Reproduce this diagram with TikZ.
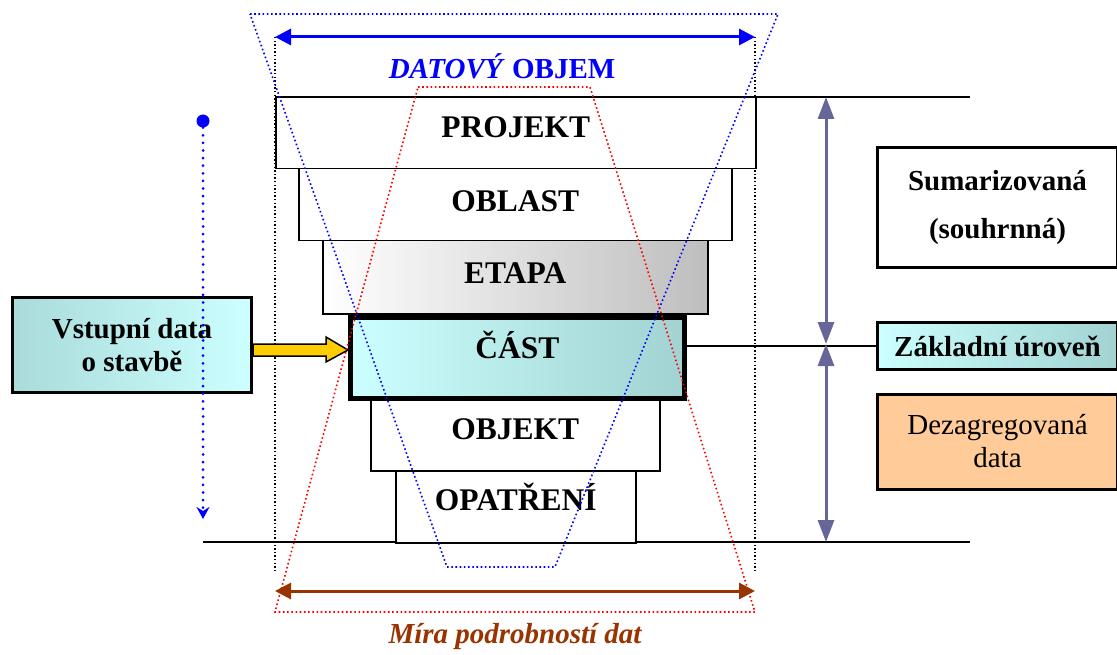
\documentclass[tikz,border=0pt]{standalone}
\usepackage{fontspec}
\setmainfont{Liberation Serif}
\usetikzlibrary{arrows.meta}
\definecolor{cyanL}{HTML}{CCFFFF}
\definecolor{cyanD}{HTML}{A2D2D2}
\definecolor{grayD}{HTML}{BEBEBE}
\definecolor{orangeL}{HTML}{FFCC99}
\definecolor{yellowA}{HTML}{FFCC00}
\definecolor{purpleA}{HTML}{666699}
\definecolor{brownA}{HTML}{993300}
\newcommand{\lvlfont}{\fontsize{31.5}{37}\selectfont}
\newcommand{\bigfont}{\fontsize{29}{35}\selectfont}
\tikzset{
  lvl/.style={draw, line width=1.5pt, anchor=north west, inner sep=0pt, font=\lvlfont\bfseries, fill=white, text height=22pt, text depth=7pt},
  sidebox/.style={draw, line width=3pt, anchor=north west, inner sep=0pt, align=center},
  bluedot/.style={blue, line width=1.6pt, dash pattern=on 1.6pt off 2.6pt},
  reddot/.style={red, line width=1.6pt, dash pattern=on 1.6pt off 2.6pt},
  blackdot/.style={black, line width=1.4pt, dash pattern=on 1.4pt off 2.2pt},
  parr/.style={purpleA, line width=3pt, {Triangle[length=22pt,width=16pt]}-{Triangle[length=22pt,width=16pt]}},
  wideArr/.style={line width=3pt, {Triangle[length=16pt,width=16pt]}-{Triangle[length=16pt,width=16pt]}},
  plain/.style={black, line width=1.5pt}
}
\begin{document}
\begin{tikzpicture}[x=1pt,y=-1pt]
\useasboundingbox (0,0) rectangle (1117,655);

% black dotted verticals
\coordinate (vl1) at (275,37); \coordinate (vl2) at (275,570);
\coordinate (vr1) at (755,37); \coordinate (vr2) at (755,570);
\draw[blackdot] (vl1) -- (vl2);
\draw[blackdot] (vr1) -- (vr2);

% horizontal lines
\coordinate (htl) at (275,97); \coordinate (htr) at (970,97);
\coordinate (hbl) at (203,542); \coordinate (hbr) at (970,542);
\draw[plain] (htl) -- (htr);
\draw[plain] (hbl) -- (hbr);

% level boxes
\node[lvl, minimum width=480pt, minimum height=71pt] (projekt) at (275,97) {\raisebox{3.6pt}{PROJEKT}};
\node[lvl, minimum width=433pt, minimum height=72pt] (oblast) at (298,168) {\raisebox{1pt}{OBLAST}};
\node[lvl, minimum width=385pt, minimum height=73pt, shading=axis, left color=white, right color=grayD] (etapa) at (322,240) {\raisebox{1pt}{ETAPA}};
\node[lvl, minimum width=289pt, minimum height=72pt] (objekt) at (370,398) {\raisebox{3pt}{OBJEKT}};
\node[lvl, minimum width=240pt, minimum height=72pt] (opatreni) at (395,470) {\raisebox{3.6pt}{OPATŘENÍ}};
\node[lvl, line width=5pt, minimum width=334pt, minimum height=81pt, shading=axis, left color=cyanL, right color=cyanD] (cast) at (348,315) {\raisebox{6.6pt}{ČÁST}};

% right side boxes
\node[sidebox, minimum width=240pt, minimum height=120pt, fill=white, font=\bigfont\bfseries] (sum) at (876,146) {\raisebox{2pt}{Sumarizovaná}\\[11pt](souhrnná)};
\node[sidebox, minimum width=240pt, minimum height=47pt, shading=axis, left color=cyanL, right color=cyanD, font=\bigfont\bfseries] (zakl) at (876,321) {Základní úroveň};
\node[sidebox, minimum width=240pt, minimum height=95pt, fill=orangeL, font=\bigfont] (dez) at (876,393) {\raisebox{3pt}{Dezagregovaná}\\[-2pt]\raisebox{3pt}{data}};

% left box
\node[sidebox, minimum width=239pt, minimum height=95pt, shading=axis, left color=cyanD!80!cyanL, right color=cyanL, font=\bigfont\bfseries] (vstup) at (11,296) {\raisebox{1pt}{Vstupní data}\\[-2pt]\raisebox{1pt}{o stavbě}};

% line from ČÁST to Základní úroveň
\draw[plain] (zakl.west) -- (zakl.west -| cast.east);

% purple arrows
\coordinate (pa1) at (826,97); \coordinate (pa2) at (826,344); \coordinate (pa3) at (826,542);
\draw[parr] (pa1) -- (pa2);
\draw[parr] (pa2) -- (pa3);

% yellow arrow
\coordinate (ya) at (vstup.east |- 0,350);
\draw[line width=1.5pt, fill=yellowA, line join=miter] (ya) ++(0,-6) -- ++(73,0) -- ++(0,-7) -- ++(22,13) -- ++(-22,12) -- ++(0,-6) -- ++(-73,0) -- cycle;

% blue dotted vertical with ball
\node[circle, fill=blue, inner sep=0pt, minimum size=13pt] (ball) at (203,121) {};
\coordinate (bend) at (203,519);
\draw[blue, line width=3pt, dash pattern=on 0pt off 7.6pt, line cap=round, -{Stealth[length=12pt,width=13pt,inset=4pt]}] (ball) -- (bend);

% blue trapezoid
\draw[bluedot] (250,14) -- (778,14) -- (555,567) -- (447,567) -- cycle;
% red trapezoid
\draw[reddot] (418,87) -- (590,87) -- (755,612) -- (275,612) -- cycle;

% blue arrow and label
\coordinate (ba1) at (275,37); \coordinate (ba2) at (755,37);
\draw[wideArr, blue] (ba1) -- (ba2);
\node[blue, font=\bigfont\bfseries] (datlab) at (502,66) {\textit{DATOVÝ} OBJEM};

% brown arrow and label
\coordinate (br1) at (275,591); \coordinate (br2) at (755,591);
\draw[wideArr, brownA] (br1) -- (br2);
\node[brownA, font=\bigfont\bfseries\itshape] (miralab) at (515,637) {Míra podrobností dat};
\end{tikzpicture}
\end{document}
